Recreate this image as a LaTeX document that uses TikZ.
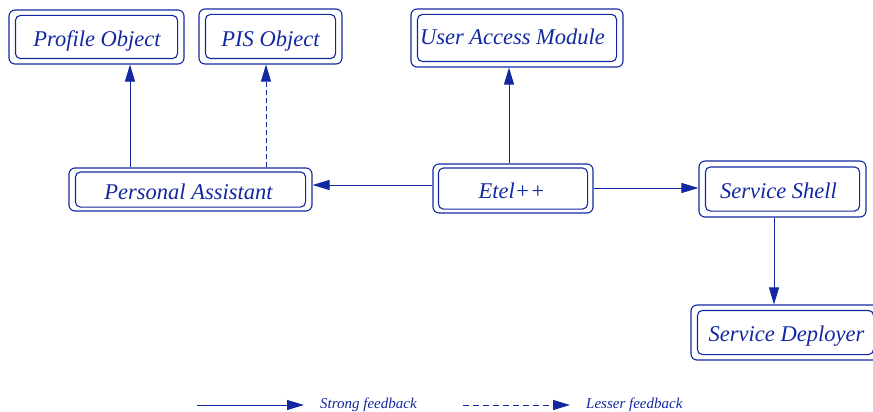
\documentclass[tikz,border=0pt]{standalone}
\usepackage{fontspec}
\setmainfont{Liberation Serif}
\usetikzlibrary{arrows.meta,calc}
\definecolor{ink}{RGB}{18,40,160}
\begin{document}
\begin{tikzpicture}[x=1pt,y=-1pt,
  box/.style={draw=ink,line width=1.1pt,rounded corners=6pt,inner sep=0pt},
  lbl/.style={text=ink,font=\itshape\fontsize{22.5}{24}\selectfont,anchor=base,inner sep=0pt},
  link/.style={draw=ink,line width=1pt,-{Triangle[length=17pt,width=10pt]}},
  weak/.style={link,dash pattern=on 5pt off 3pt},
  legtext/.style={text=ink,font=\itshape\fontsize{15}{17}\selectfont,anchor=base west,inner sep=0pt}]
\useasboundingbox (0,0) rectangle (873,412);

% component frames
\node[box,minimum width=175pt,minimum height=54pt] (prof) at (96.5,37) {};
\node[box,minimum width=143pt,minimum height=55pt] (pis)  at (270.5,36.5) {};
\node[box,minimum width=212pt,minimum height=58pt] (uam)  at (517,38) {};
\node[box,minimum width=243pt,minimum height=43pt] (pa)   at (190.5,189.5) {};
\node[box,minimum width=160pt,minimum height=49pt] (etel) at (513,188.5) {};
\node[box,minimum width=167pt,minimum height=56pt] (ss)   at (782.5,189) {};
\node[box,minimum width=189pt,minimum height=55pt] (sd)   at (785.5,332.5) {};

% inner frames
\foreach \n/\dx/\dy in {prof/7/6,pis/7/6,uam/7/6,pa/7/4.5,etel/6/4.5,ss/7/6.5,sd/7/6}{
  \draw[ink,line width=1.1pt,rounded corners=5pt]
    ($(\n.north west)+(\dx,\dy)$) rectangle ($(\n.south east)+(-\dx,-\dy)$);
}

% component names
\node[lbl] (proft) at (97,47)    {Profile Object};
\node[lbl] (pist)  at (270.5,47) {PIS Object};
\node[lbl] (uamt)  at (512.5,45) {User Access Module};
\node[lbl] (pat)   at (188.5,199) {Personal Assistant};
\node[lbl] (etelt) at (512,198.5) {Etel++};
\node[lbl] (sst)   at (778.5,198) {Service Shell};
\node[lbl] (sdt)   at (786.5,341) {Service Deployer};

% feedback links
\draw[link] (pa.north -| 130,0) -- (prof.south -| 130,0);
\draw[weak] (pa.north -| 266,0) -- (pis.south -| 266,0);
\draw[link] (etel.north -| 509,0) -- (uam.south -| 509,0);
\draw[link] (etel.west |- 0,185) -- (pa.east |- 0,185);
\draw[link] (etel.east |- 0,188) -- (ss.west |- 0,188);
\draw[link] (ss.south -| 774,0) -- (sd.north -| 774,0);

% legend
\coordinate (s0) at (197,405);
\coordinate (s1) at (304,405);
\coordinate (w0) at (463,405);
\coordinate (w1) at (570,405);
\draw[link] (s0) -- (s1);
\draw[link,dash pattern=on 6pt off 4pt] (w0) -- (w1);
\node[legtext] (sl) at (320,408) {Strong feedback};
\node[legtext] (wl) at (586,408) {Lesser feedback};
\end{tikzpicture}
\end{document}
